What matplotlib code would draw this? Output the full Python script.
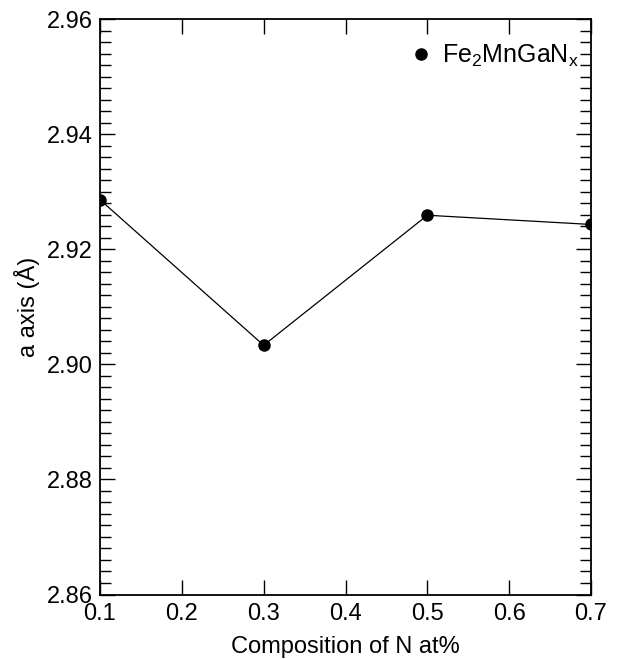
import matplotlib
matplotlib.use("Agg")
import matplotlib.pyplot as plt
from matplotlib.ticker import MultipleLocator

plt.rcParams['font.family'] = ['Liberation Sans', 'DejaVu Sans']
plt.rcParams['mathtext.fontset'] = 'custom'
plt.rcParams['mathtext.rm'] = 'Liberation Sans'
plt.rcParams['mathtext.it'] = 'Liberation Sans'
fontsize = 17

# nitrogen content and lattice parameter
composition = [0.1, 0.3, 0.5, 0.7]
a_axis = [2.9286, 2.9033, 2.9259, 2.9243]
series_label = r'Fe$_\mathrm{2}$MnGaN$_\mathrm{x}$'

fig = plt.figure(figsize=(6.18, 6.59), dpi=100)
ax = fig.add_axes([100 / 618, 1 - 594.5 / 659, 491 / 618, 575.5 / 659])

ax.plot(composition, a_axis, color='k', lw=0.9, marker='o', markersize=8,
        markerfacecolor='k', label=series_label)

ax.set_xlim(0.1, 0.7)
ax.set_ylim(2.86, 2.96)
ax.xaxis.set_major_locator(MultipleLocator(0.1))
ax.yaxis.set_major_locator(MultipleLocator(0.02))
ax.yaxis.set_minor_locator(MultipleLocator(0.002))
ax.set_yticklabels([f'{v:.2f}' for v in ax.get_yticks()])

ax.tick_params(axis='both', which='major', direction='in', length=11, width=1,
               top=True, right=True, labelsize=fontsize)
ax.tick_params(axis='x', which='major', pad=6)
ax.tick_params(axis='y', which='major', pad=5)
ax.tick_params(axis='y', which='minor', direction='in', length=8, width=1,
               right=True)
for s in ax.spines.values():
    s.set_linewidth(1.3)

ax.set_xlabel('Composition of N at%', fontsize=fontsize, labelpad=8)
ax.set_ylabel('a axis (Å)', fontsize=fontsize, labelpad=5)

leg = ax.legend(loc='upper right', bbox_to_anchor=(1.024, 1.0), frameon=False,
                fontsize=18, handlelength=0.6, handletextpad=0.55,
                borderaxespad=0.55)
for h in leg.legend_handles:
    h.set_linestyle('None')

fig.savefig('out.png', dpi=100)
